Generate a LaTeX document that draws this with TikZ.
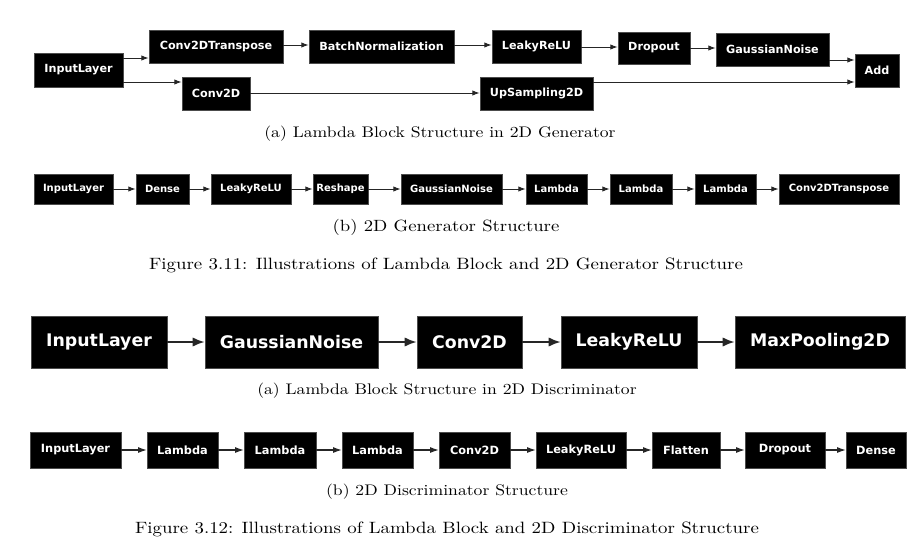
\documentclass[tikz,border=0pt]{standalone}
\usepackage{fontspec}
\newfontfamily\dejavu{DejaVu Sans}
\newfontfamily\capfont{lmroman10-regular.otf}[FakeStretch=1.15]
\usetikzlibrary{arrows.meta}
\newcommand\lyr[7][]{\node[blk,#1,minimum width={(#5-#3)*0.75pt},minimum height={(#6-#4)*0.75pt}] (#2) at ({(#3+#5)/2},{(#4+#6)/2}) {#7};}
\begin{document}
\begin{tikzpicture}[x=0.75pt,y=-0.75pt,
  blk/.style={fill=black,draw=black!70,line width=0.4pt,text=white,inner sep=0pt},
  fa/.style={font=\dejavu\bfseries\fontsize{8.4}{10}\selectfont},
  fb/.style={font=\dejavu\bfseries\fontsize{7.5}{9}\selectfont},
  fc/.style={font=\dejavu\bfseries\fontsize{13}{15}\selectfont},
  fd/.style={font=\dejavu\bfseries\fontsize{8.5}{10}\selectfont},
  arr/.style={draw=black!85,line width=0.75pt,-{Latex[length=5.5pt,width=4pt]}},
  arrbig/.style={draw=black!85,line width=1.5pt,-{Latex[length=9pt,width=7pt]}},
  arrmid/.style={draw=black!85,line width=0.8pt,-{Latex[length=6.5pt,width=4.5pt]}},
  subcap/.style={anchor=base,inner sep=0pt,font=\capfont\fontsize{11.5}{13}\selectfont},
  figcap/.style={anchor=base,inner sep=0pt,font=\capfont\fontsize{12.3}{14}\selectfont}]
\useasboundingbox (0,0) rectangle (923,557);
\fill[white] (0,0) rectangle (923,557);
% ---------- Generator lambda block ----------
\lyr[fa]{g1in}{34}{53}{123}{87}{InputLayer}
\lyr[fa]{g1ct}{149}{30}{283}{63}{Conv2DTranspose}
\lyr[fa]{g1bn}{309}{30}{454}{63}{BatchNormalization}
\lyr[fa]{g1lr}{492}{30}{581}{63}{LeakyReLU}
\lyr[fa]{g1do}{618}{32}{690}{64}{Dropout}
\lyr[fa]{g1gn}{716}{33}{829}{66}{GaussianNoise}
\lyr[fa]{g1add}{855}{54}{899}{87}{Add}
\lyr[fa]{g1cv}{182}{77}{250}{110}{Conv2D}
\lyr[fa]{g1up}{480}{77}{593}{110}{UpSampling2D}
\coordinate (ya) at (0,58);
\coordinate (yb) at (0,82);
\coordinate (yc) at (0,45);
\coordinate (yd) at (0,47);
\coordinate (ye) at (0,48);
\coordinate (yf) at (0,60);
\coordinate (yg) at (0,93);
\draw[arr] (g1in.east |- ya) -- (g1ct.west |- ya);
\draw[arr] (g1in.east |- yb) -- (g1cv.west |- yb);
\draw[arr] (g1ct.east |- yc) -- (g1bn.west |- yc);
\draw[arr] (g1bn.east |- yc) -- (g1lr.west |- yc);
\draw[arr] (g1lr.east |- yd) -- (g1do.west |- yd);
\draw[arr] (g1do.east |- ye) -- (g1gn.west |- ye);
\draw[arr] (g1gn.east |- yf) -- (g1add.west |- yf);
\draw[arr] (g1cv.east |- yg) -- (g1up.west |- yg);
\draw[arr] (g1up.east |- yb) -- (g1add.west |- yb);
\node[subcap] (capga) at (440,137) {(a) Lambda Block Structure in 2D Generator};
% ---------- Generator structure ----------
\lyr[fb]{g2a}{34}{174}{113}{204}{InputLayer}
\lyr[fb]{g2b}{136}{174}{189}{204}{Dense}
\lyr[fb]{g2c}{211}{174}{291}{204}{LeakyReLU}
\lyr[fb]{g2d}{313}{174}{368}{204}{Reshape}
\lyr[fb]{g2e}{401}{174}{502}{204}{GaussianNoise}
\lyr[fb]{g2f}{526}{174}{587}{204}{Lambda}
\lyr[fb]{g2g}{610}{174}{672}{204}{Lambda}
\lyr[fb]{g2h}{695}{174}{756}{204}{Lambda}
\lyr[fb]{g2i}{779}{174}{899}{204}{Conv2DTranspose}
\foreach \p/\q in {g2a/g2b,g2b/g2c,g2c/g2d,g2d/g2e,g2e/g2f,g2f/g2g,g2g/g2h,g2h/g2i}
  \draw[arr] (\p) -- (\q);
\node[subcap,font=\capfont\fontsize{12.2}{14}\selectfont] (capgb) at (446,231) {(b) 2D Generator Structure};
\node[figcap] (fig311) at (446,269) {Figure 3.11: Illustrations of Lambda Block and 2D Generator Structure};
% ---------- Discriminator lambda block ----------
\lyr[fc]{d1a}{31}{316}{167}{368}{InputLayer}
\lyr[fc]{d1b}{205}{316}{378}{368}{GaussianNoise}
\lyr[fc]{d1c}{417}{316}{522}{368}{Conv2D}
\lyr[fc]{d1d}{561}{316}{697}{368}{LeakyReLU}
\lyr[fc]{d1e}{735}{316}{905}{368}{MaxPooling2D}
\foreach \p/\q in {d1a/d1b,d1b/d1c,d1c/d1d,d1d/d1e}
  \draw[arrbig] (\p) -- (\q);
\node[subcap] (capda) at (447,394) {(a) Lambda Block Structure in 2D Discriminator};
% ---------- Discriminator structure ----------
\lyr[fd]{d2a}{30}{432}{121}{468}{InputLayer}
\lyr[fd]{d2b}{147}{432}{218}{468}{Lambda}
\lyr[fd]{d2c}{244}{432}{316}{468}{Lambda}
\lyr[fd]{d2d}{342}{432}{413}{468}{Lambda}
\lyr[fd]{d2e}{439}{432}{510}{468}{Conv2D}
\lyr[fd]{d2f}{536}{432}{626}{468}{LeakyReLU}
\lyr[fd]{d2g}{652}{432}{720}{468}{Flatten}
\lyr[fd]{d2h}{745}{432}{825}{468}{Dropout}
\lyr[fd]{d2i}{846}{432}{906}{468}{Dense}
\foreach \p/\q in {d2a/d2b,d2b/d2c,d2c/d2d,d2d/d2e,d2e/d2f,d2f/d2g,d2g/d2h,d2h/d2i}
  \draw[arrmid] (\p) -- (\q);
\node[subcap] (capdb) at (447,495) {(b) 2D Discriminator Structure};
\node[figcap] (fig312) at (447,533) {Figure 3.12: Illustrations of Lambda Block and 2D Discriminator Structure};
\end{tikzpicture}
\end{document}
